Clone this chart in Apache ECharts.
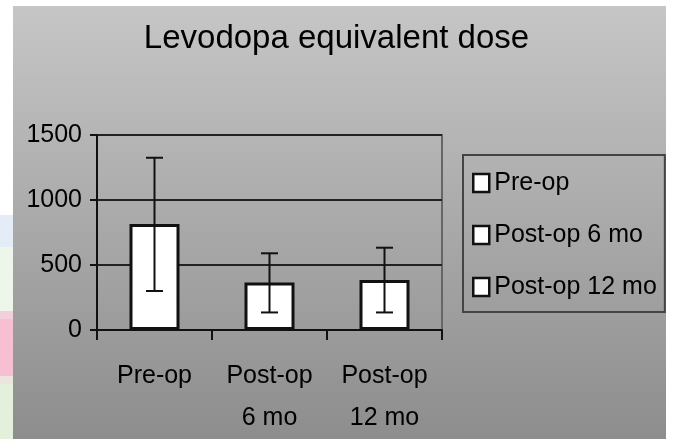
<!DOCTYPE html>
<html>
<head>
<meta charset="utf-8">
<script src="https://cdn.jsdelivr.net/npm/echarts@6/dist/echarts.min.js"></script>
<style>
  html, body { margin: 0; padding: 0; background: #fff; }
  #chart { width: 673px; height: 439px; }
</style>
</head>
<body>
<div id="chart"></div>
<script>
// values
var categories = ['Pre-op', 'Post-op\n6 mo', 'Post-op\n12 mo'];
var legendNames = ['Pre-op', 'Post-op 6 mo', 'Post-op 12 mo'];
var means = [815, 365, 385];
var errLow = [300, 135, 135];
var errHigh = [1325, 590, 633];
var yMin = 0, yMax = 1500, yStep = 500;

var FONT = "'Liberation Sans', Arial, sans-serif";

var myChart = echarts.init(document.getElementById('chart'));

// one bar series per time point so the legend lists each of them
var barSeries = legendNames.map(function (name, i) {
  return {
    name: name,
    type: 'bar',
    barWidth: 50,
    barGap: '-100%',
    data: categories.map(function (c, j) { return j === i ? means[i] : '-'; }),
    itemStyle: { color: '#ffffff', borderColor: '#111', borderWidth: 3 },
    z: 3
  };
});

var errData = categories.map(function (c, i) { return [i, errLow[i], errHigh[i]]; });

var option = {
  backgroundColor: '#ffffff',
  animation: false,
  textStyle: { fontFamily: FONT },
  graphic: [
    {
      type: 'rect', z: -100, silent: true,
      shape: { x: 13, y: 6, width: 653, height: 433 },
      style: {
        fill: new echarts.graphic.LinearGradient(0, 0, 0, 1, [
          { offset: 0, color: '#c6c6c6' },
          { offset: 1, color: '#8d8d8d' }
        ])
      }
    },
    // coloured strips at the left edge of the scan
    { type: 'rect', z: -100, silent: true, shape: { x: 0, y: 215, width: 13, height: 32 }, style: { fill: '#e4ecf7' } },
    { type: 'rect', z: -100, silent: true, shape: { x: 0, y: 247, width: 13, height: 64 }, style: { fill: '#eef5ea' } },
    { type: 'rect', z: -100, silent: true, shape: { x: 0, y: 311, width: 13, height: 8 }, style: { fill: '#f3cfdc' } },
    { type: 'rect', z: -100, silent: true, shape: { x: 0, y: 319, width: 13, height: 57 }, style: { fill: '#f7bfd2' } },
    { type: 'rect', z: -100, silent: true, shape: { x: 0, y: 376, width: 13, height: 8 }, style: { fill: '#ebe6dd' } },
    { type: 'rect', z: -100, silent: true, shape: { x: 0, y: 384, width: 13, height: 55 }, style: { fill: '#e5f0dc' } }
  ],
  title: {
    text: 'Levodopa equivalent dose',
    left: 'center',
    top: 17,
    textStyle: { fontFamily: FONT, fontSize: 33, fontWeight: 'normal', color: '#000' }
  },
  legend: {
    orient: 'vertical',
    left: 463,
    top: 155,
    padding: [13, 8, 10, 9],
    itemGap: 22,
    itemWidth: 16,
    itemHeight: 18,
    icon: 'rect',
    borderColor: '#444',
    borderWidth: 2,
    data: legendNames,
    itemStyle: { borderWidth: 2.5 },
    textStyle: { fontFamily: FONT, fontSize: 25, lineHeight: 30, color: '#000' }
  },
  grid: {
    left: 97, right: 231, top: 135, bottom: 108,
    show: true, borderColor: '#666', borderWidth: 2, backgroundColor: 'transparent'
  },
  xAxis: {
    type: 'category',
    data: categories,
    axisLine: { lineStyle: { color: '#111', width: 2 } },
    axisTick: { show: true, length: 10, interval: 0, lineStyle: { color: '#111', width: 2 } },
    axisLabel: { interval: 0, margin: 25, fontFamily: FONT, fontSize: 25, lineHeight: 42, color: '#000' },
    splitLine: { show: false }
  },
  yAxis: {
    type: 'value',
    min: yMin, max: yMax, interval: yStep,
    axisLine: { show: true, lineStyle: { color: '#111', width: 2 } },
    axisTick: { show: true, length: 7, lineStyle: { color: '#111', width: 2 } },
    axisLabel: {
      margin: 15, fontFamily: FONT, fontSize: 25, color: '#000',
      formatter: function (v) { return String(v); }
    },
    splitLine: { show: true, lineStyle: { color: '#222', width: 2 } }
  },
  series: barSeries.concat([{
    type: 'custom',
    name: 'sd',
    z: 5,
    data: errData,
    encode: { x: 0, y: [1, 2] },
    renderItem: function (params, api) {
      var idx = api.value(0);
      var lo = api.coord([idx, api.value(1)]);
      var hi = api.coord([idx, api.value(2)]);
      var half = 8.5;
      var st = { stroke: '#111', lineWidth: 2 };
      return {
        type: 'group',
        children: [
          { type: 'line', shape: { x1: hi[0], y1: hi[1], x2: lo[0], y2: lo[1] }, style: st },
          { type: 'line', shape: { x1: hi[0] - half, y1: hi[1], x2: hi[0] + half, y2: hi[1] }, style: st },
          { type: 'line', shape: { x1: lo[0] - half, y1: lo[1], x2: lo[0] + half, y2: lo[1] }, style: st }
        ]
      };
    }
  }])
};

myChart.setOption(option);
</script>
</body>
</html>
